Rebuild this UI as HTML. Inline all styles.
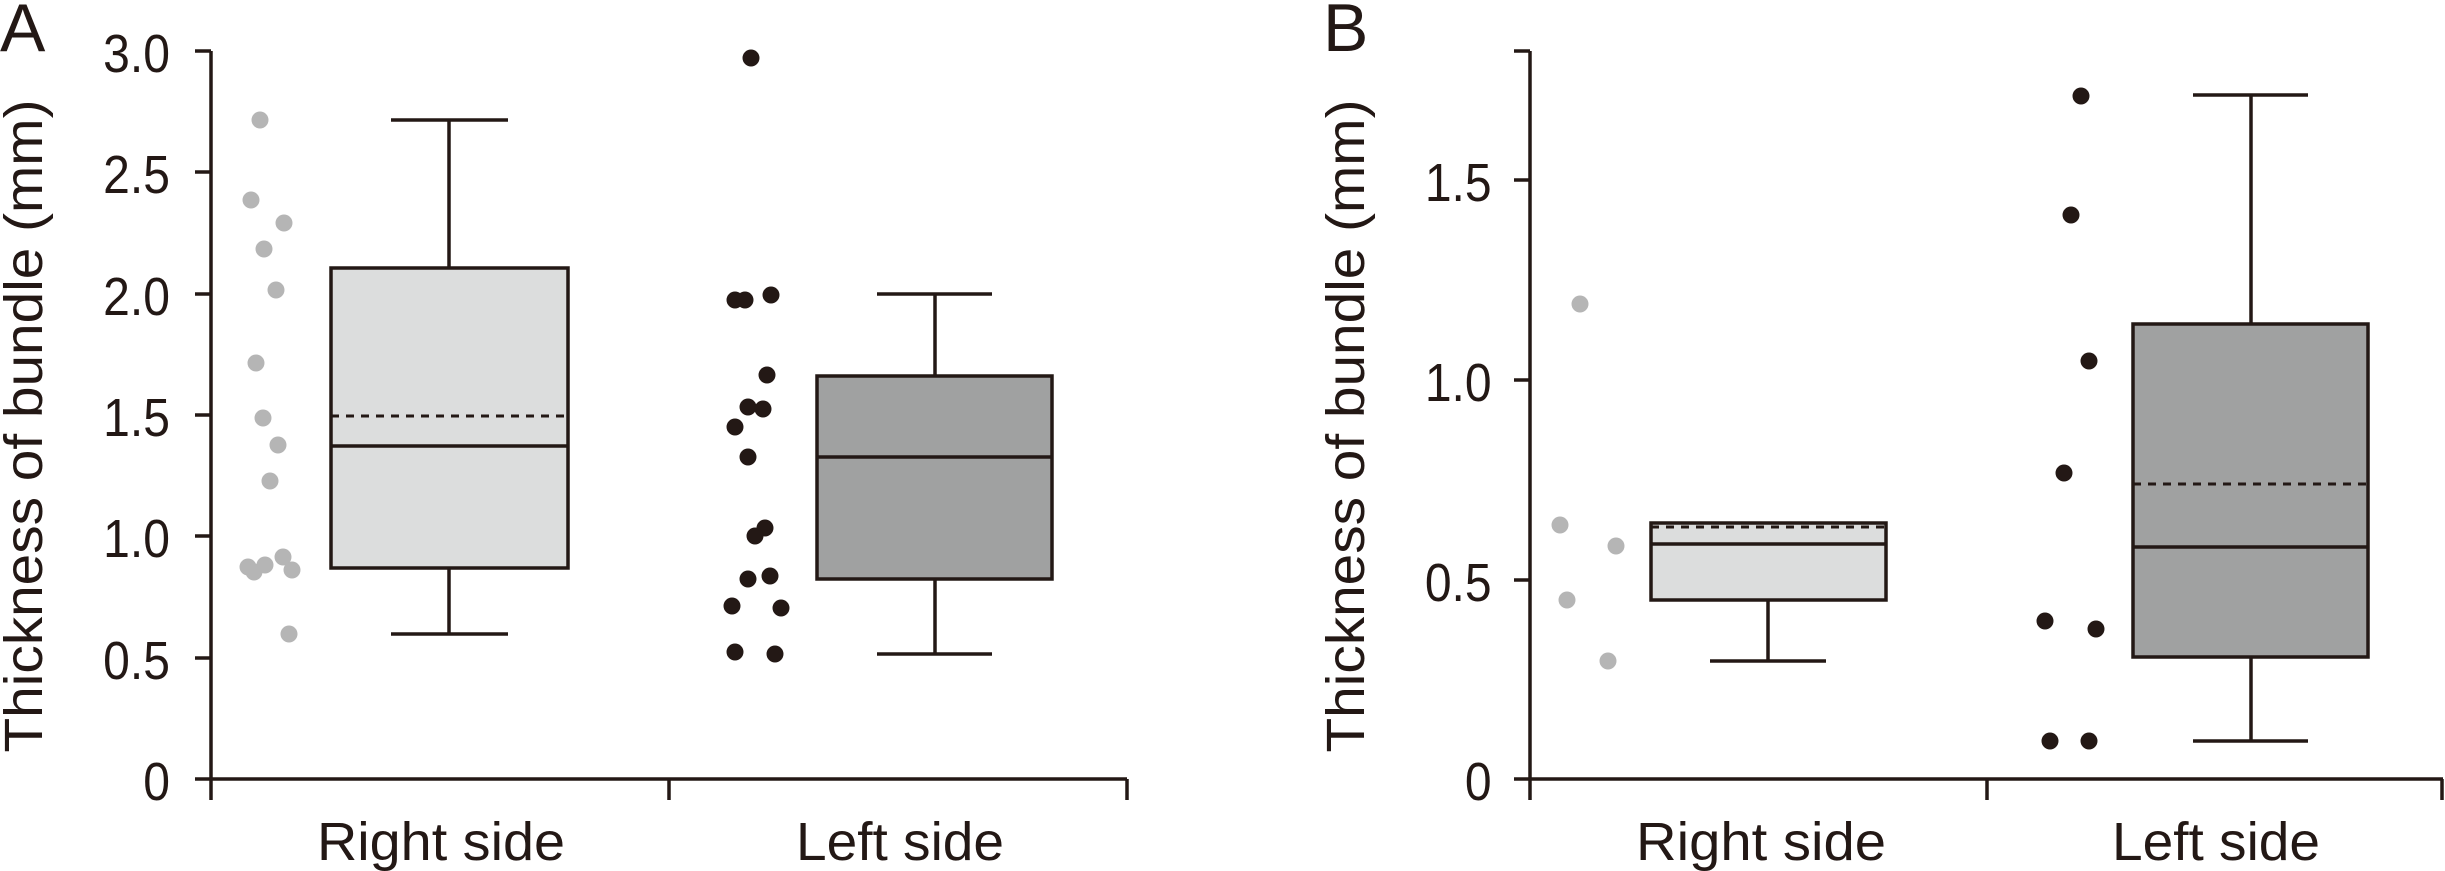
<!DOCTYPE html>
<html><head><meta charset="utf-8"><style>html,body{margin:0;padding:0;background:#fff}svg{display:block}</style></head>
<body>
<svg width="2445" height="871" viewBox="0 0 2445 871" xmlns="http://www.w3.org/2000/svg" font-family="Liberation Sans, sans-serif" fill="#231815">
<g stroke="#231815" stroke-width="3.5" fill="none">
<path d="M211 51V800M195 51H211M195 172H211M195 294H211M195 415H211M195 536H211M195 658H211M195 779H211M211 779H1127M669 779V800M1127 779V800"/>
<path d="M1530 51V800M1514 51H1530M1514 180H1530M1514 380H1530M1514 580H1530M1514 779H1530M1530 779H2443M1987 779V800M2442 779V800"/>
<path d="M449 120V268M391 120H508M449 568V634M391 634H508"/>
<rect x="331" y="268" width="237" height="300" fill="#dcdddd"/>
<path d="M331 446H568"/>
<path d="M331 416H568" stroke-dasharray="8 7" stroke-width="3"/>
<path d="M935 294V376M877 294H992M935 579V654M877 654H992"/>
<rect x="817" y="376" width="235" height="203" fill="#a0a1a1"/>
<path d="M817 457H1052"/>
<path d="M1768 600V661M1710 661H1826"/>
<rect x="1651" y="523" width="235" height="77" fill="#dcdddd"/>
<path d="M1651 544H1886"/>
<path d="M1651 527H1886" stroke-dasharray="8 7" stroke-width="3"/>
<path d="M2251 95V324M2193 95H2308M2251 657V741M2193 741H2308"/>
<rect x="2133" y="324" width="235" height="333" fill="#a0a1a1"/>
<path d="M2133 547H2368"/>
<path d="M2133 484H2368" stroke-dasharray="8 7" stroke-width="3"/>
</g>
<g fill="#b5b5b5">
<circle cx="260" cy="120" r="8.5"/><circle cx="251" cy="200" r="8.5"/><circle cx="284" cy="223" r="8.5"/><circle cx="264" cy="249" r="8.5"/><circle cx="276" cy="290" r="8.5"/><circle cx="256" cy="363" r="8.5"/><circle cx="263" cy="418" r="8.5"/><circle cx="278" cy="445" r="8.5"/><circle cx="270" cy="481" r="8.5"/><circle cx="248" cy="567" r="8.5"/><circle cx="254" cy="572" r="8.5"/><circle cx="265" cy="565" r="8.5"/><circle cx="283" cy="557" r="8.5"/><circle cx="292" cy="570" r="8.5"/><circle cx="289" cy="634" r="8.5"/>
<circle cx="1580" cy="304" r="8.5"/><circle cx="1560" cy="525" r="8.5"/><circle cx="1616" cy="546" r="8.5"/><circle cx="1567" cy="600" r="8.5"/><circle cx="1608" cy="661" r="8.5"/>
</g>
<g fill="#231815">
<circle cx="751" cy="58" r="8.5"/><circle cx="735" cy="300" r="8.5"/><circle cx="745" cy="300" r="8.5"/><circle cx="771" cy="295" r="8.5"/><circle cx="767" cy="375" r="8.5"/><circle cx="748" cy="407" r="8.5"/><circle cx="763" cy="409" r="8.5"/><circle cx="735" cy="427" r="8.5"/><circle cx="748" cy="457" r="8.5"/><circle cx="765" cy="528" r="8.5"/><circle cx="755" cy="536" r="8.5"/><circle cx="748" cy="579" r="8.5"/><circle cx="770" cy="576" r="8.5"/><circle cx="732" cy="606" r="8.5"/><circle cx="781" cy="608" r="8.5"/><circle cx="735" cy="652" r="8.5"/><circle cx="775" cy="654" r="8.5"/>
<circle cx="2081" cy="96" r="8.5"/><circle cx="2071" cy="215" r="8.5"/><circle cx="2089" cy="361" r="8.5"/><circle cx="2064" cy="473" r="8.5"/><circle cx="2045" cy="621" r="8.5"/><circle cx="2096" cy="629" r="8.5"/><circle cx="2050" cy="741" r="8.5"/><circle cx="2089" cy="741" r="8.5"/>
</g>
<g font-size="54" text-anchor="end" transform="scale(0.89,1)">
<text x="191" y="72">3.0</text><text x="191" y="193">2.5</text><text x="191" y="315">2.0</text><text x="191" y="436">1.5</text><text x="191" y="557">1.0</text><text x="191" y="679">0.5</text><text x="191" y="800">0</text>
<text x="1676" y="201">1.5</text><text x="1676" y="401">1.0</text><text x="1676" y="601">0.5</text><text x="1676" y="800">0</text>
</g>
<g font-size="54" text-anchor="middle">
<text x="441" y="860" textLength="248" lengthAdjust="spacingAndGlyphs">Right side</text>
<text x="900" y="860" textLength="208" lengthAdjust="spacingAndGlyphs">Left side</text>
<text x="1761" y="860" textLength="250" lengthAdjust="spacingAndGlyphs">Right side</text>
<text x="2216" y="860" textLength="208" lengthAdjust="spacingAndGlyphs">Left side</text>
</g>
<text font-size="54" text-anchor="middle" transform="translate(42,426) rotate(-90)" textLength="653" lengthAdjust="spacingAndGlyphs">Thickness of bundle (mm)</text>
<text font-size="54" text-anchor="middle" transform="translate(1364,426) rotate(-90)" textLength="653" lengthAdjust="spacingAndGlyphs">Thickness of bundle (mm)</text>
<text x="0" y="51" font-size="68">A</text>
<text x="1323" y="51" font-size="68">B</text>
</svg>
</body></html>
